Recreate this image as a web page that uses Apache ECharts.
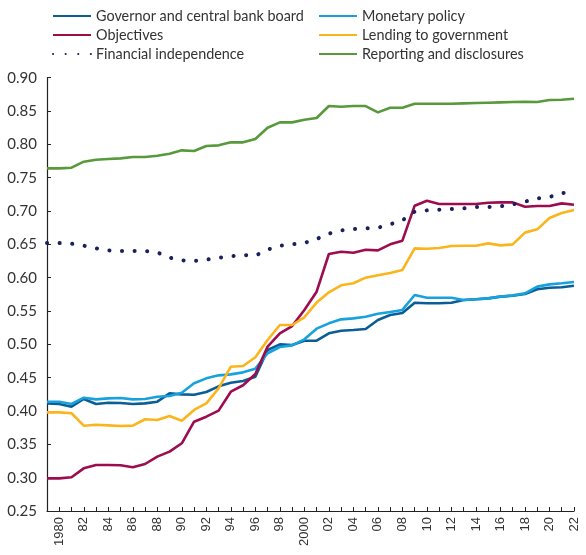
<!DOCTYPE html>
<html>
<head>
<meta charset="utf-8">
<script src="https://cdn.jsdelivr.net/npm/echarts@6/dist/echarts.min.js"></script>
<style>
  html, body { margin: 0; padding: 0; background: #fff; }
  #chart { width: 586px; height: 555px; }
</style>
</head>
<body>
<div id="chart"></div>
<script>
var years = [];
for (var y = 1979; y <= 2022; y++) years.push(String(y));

// index values, 1979..2022
var governor = [0.4115, 0.4105, 0.4065, 0.418, 0.4105, 0.4125, 0.412, 0.4105, 0.4115, 0.414,
  0.4265, 0.425, 0.4245, 0.4285, 0.437, 0.4425, 0.445, 0.4515, 0.4915, 0.500,
  0.499, 0.5055, 0.5055, 0.5166, 0.5205, 0.5215, 0.523, 0.5366, 0.544, 0.547,
  0.5625, 0.5616, 0.5616, 0.5625, 0.5666, 0.5676, 0.569, 0.5716, 0.573, 0.5755,
  0.5826, 0.585, 0.5856, 0.588];
var monetary = [0.414, 0.414, 0.4105, 0.420, 0.4175, 0.419, 0.4195, 0.4175, 0.418, 0.4215,
  0.4225, 0.4275, 0.4416, 0.449, 0.4535, 0.455, 0.458, 0.4635, 0.4866, 0.496,
  0.4985, 0.5075, 0.5235, 0.5315, 0.5375, 0.539, 0.5415, 0.546, 0.5485, 0.5516,
  0.574, 0.570, 0.570, 0.570, 0.5666, 0.5676, 0.569, 0.5716, 0.5735, 0.5765,
  0.5866, 0.590, 0.5916, 0.5935];
var objectives = [0.299, 0.299, 0.3006, 0.314, 0.319, 0.319, 0.3186, 0.3156, 0.3205, 0.3315,
  0.339, 0.3516, 0.384, 0.3915, 0.4006, 0.429, 0.4386, 0.4555, 0.4966, 0.5166,
  0.5275, 0.5515, 0.579, 0.6355, 0.639, 0.6375, 0.642, 0.641, 0.650, 0.6555,
  0.708, 0.7155, 0.7106, 0.7106, 0.7106, 0.7106, 0.7125, 0.713, 0.713, 0.7065,
  0.7075, 0.7075, 0.7115, 0.7095];
var lending = [0.398, 0.398, 0.3966, 0.378, 0.3795, 0.3785, 0.3775, 0.378, 0.3876, 0.3866,
  0.3925, 0.3855, 0.4016, 0.4115, 0.434, 0.4665, 0.4675, 0.4806, 0.5065, 0.529,
  0.529, 0.5406, 0.5626, 0.578, 0.5886, 0.5916, 0.600, 0.6036, 0.607, 0.6116,
  0.644, 0.6435, 0.6446, 0.6475, 0.648, 0.648, 0.6515, 0.6485, 0.650, 0.6676,
  0.6725, 0.6896, 0.697, 0.7016];
var financial = [0.652, 0.652, 0.651, 0.648, 0.644, 0.641, 0.640, 0.640, 0.640, 0.638,
  0.630, 0.626, 0.625, 0.627, 0.630, 0.632, 0.634, 0.633, 0.642, 0.648,
  0.650, 0.652, 0.658, 0.666, 0.671, 0.673, 0.674, 0.675, 0.680, 0.686,
  0.699, 0.701, 0.702, 0.703, 0.704, 0.706, 0.706, 0.707, 0.710, 0.714,
  0.719, 0.721, 0.727, 0.728];
var reporting = [0.764, 0.764, 0.765, 0.774, 0.777, 0.778, 0.779, 0.781, 0.781, 0.783,
  0.786, 0.791, 0.790, 0.7976, 0.7985, 0.803, 0.803, 0.808, 0.825, 0.833,
  0.833, 0.837, 0.8396, 0.8575, 0.8565, 0.8575, 0.8575, 0.848, 0.855, 0.855,
  0.861, 0.861, 0.861, 0.861, 0.8615, 0.862, 0.8625, 0.863, 0.8635, 0.864,
  0.8635, 0.8665, 0.867, 0.8685];

var names = ['Governor and central bank board', 'Monetary policy', 'Objectives',
  'Lending to government', 'Financial independence', 'Reporting and disclosures'];

var chart = echarts.init(document.getElementById('chart'));

function solid(name, data, color) {
  return {
    name: name, type: 'line', data: data, symbol: 'none', color: color,
    lineStyle: { width: 2.6, color: color }
  };
}

function legendCol(left, items) {
  return {
    left: left, top: 9, padding: 0, orient: 'vertical',
    itemWidth: 38, itemHeight: 14, itemGap: 5,
    itemStyle: { opacity: 0 },
    textStyle: { fontFamily: 'Lato', fontSize: 14.4, color: '#333', lineHeight: 14 },
    data: items
  };
}

var option = {
  animation: false,
  legend: [
    legendCol(52, [names[0], names[2], names[4]]),
    legendCol(318, [names[1], names[3], names[5]])
  ],
  grid: { left: 47, right: 12, top: 77.7, bottom: 44 },
  xAxis: {
    type: 'category',
    data: years,
    boundaryGap: false,
    axisLine: { lineStyle: { color: '#222', width: 1.2 } },
    axisTick: { inside: true, length: 4, interval: 0, lineStyle: { color: '#222' } },
    axisLabel: {
      rotate: 90, fontFamily: 'Liberation Sans', fontSize: 13, color: '#333', margin: 6,
      interval: function (i) { return i % 2 === 1; },
      formatter: function (v) { return (v === '1980' || v === '2000') ? v : v.slice(2); }
    },
    splitLine: { show: false }
  },
  yAxis: {
    type: 'value', min: 0.25, max: 0.90, interval: 0.05,
    axisLine: { show: true, lineStyle: { color: '#222', width: 1.2 } },
    axisTick: { show: true, inside: true, length: 4, lineStyle: { color: '#222' } },
    axisLabel: {
      fontFamily: 'Lato', fontSize: 15, color: '#333', margin: 10,
      formatter: function (v) { return v.toFixed(2); }
    },
    splitLine: { show: false }
  },
  series: [
    solid(names[0], governor, '#0b5d96'),
    solid(names[1], monetary, '#17a2dd'),
    solid(names[2], objectives, '#9c0c4f'),
    solid(names[3], lending, '#fbb51c'),
    {
      name: names[4], type: 'line', data: financial, symbol: 'none', color: '#1b1f5c',
      lineStyle: { width: 4, color: '#1b1f5c', type: [0.1, 12.5], cap: 'round' }
    },
    solid(names[5], reporting, '#57993b')
  ]
};

chart.setOption(option);
</script>
</body>
</html>
